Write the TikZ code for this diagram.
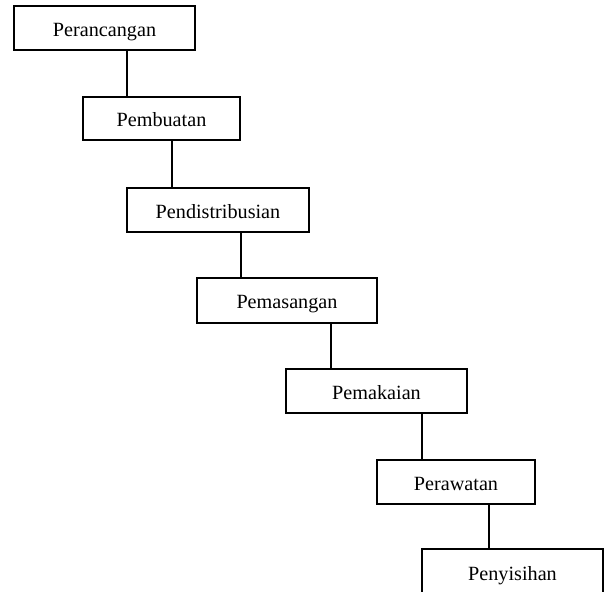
\documentclass[tikz,border=0pt]{standalone}
\usepackage{fontspec}
\setmainfont{Liberation Serif}
\begin{document}
\begin{tikzpicture}[x=1pt,y=-1pt,
  stage/.style={draw=black,line width=1.6pt,fill=white,inner sep=0pt,
    text height=18pt,text depth=2pt,
    font=\fontsize{20.2}{24}\selectfont},
  link/.style={draw=black,line width=1.6pt}]
\useasboundingbox (0,0) rectangle (606,592);
\clip (0,0) rectangle (606,592);
\node[stage,minimum width=181pt,minimum height=44pt] (b1) at (104.5,28) {Perancangan};
\node[stage,minimum width=157pt,minimum height=43pt] (b2) at (161.5,118.5) {Pembuatan};
\node[stage,minimum width=182pt,minimum height=44pt] (b3) at (218,210) {Pendistribusian};
\node[stage,minimum width=180pt,minimum height=45pt] (b4) at (287,300.5) {Pemasangan};
\node[stage,minimum width=181pt,minimum height=44pt] (b5) at (376.5,391) {Pemakaian};
\node[stage,minimum width=158pt,minimum height=44pt] (b6) at (456,482) {Perawatan};
\node[stage,minimum width=181pt,minimum height=46pt] (b7) at (512.5,572) {Penyisihan};
\draw[link] (b1.south -| 127,0) -- (b2.north -| 127,0);
\draw[link] (b2.south -| 172,0) -- (b3.north -| 172,0);
\draw[link] (b3.south -| 241,0) -- (b4.north -| 241,0);
\draw[link] (b4.south -| 331,0) -- (b5.north -| 331,0);
\draw[link] (b5.south -| 422,0) -- (b6.north -| 422,0);
\draw[link] (b6.south -| 489,0) -- (b7.north -| 489,0);
\end{tikzpicture}
\end{document}
